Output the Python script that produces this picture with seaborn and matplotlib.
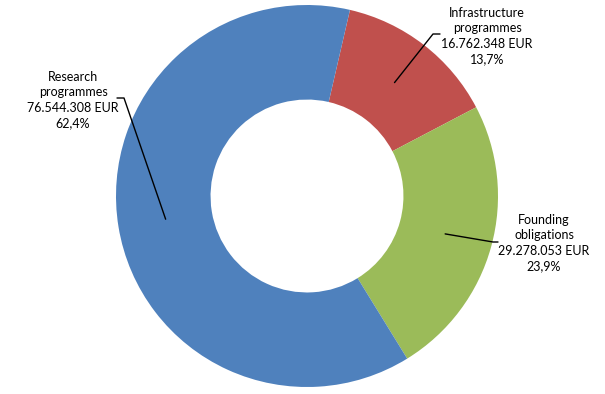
import numpy as np
import matplotlib
matplotlib.use("Agg")
import matplotlib.pyplot as plt
import seaborn as sns

# data (clockwise order, starting just right of 12 o'clock)
labels = ["Infrastructure\nprogrammes", "Founding\nobligations", "Research\nprogrammes"]
amounts = ["16.762.348 EUR", "29.278.053 EUR", "76.544.308 EUR"]
shares = [13.7, 23.9, 62.4]
colors = ["#C0504D", "#9BBB59", "#4F81BD"]

sns.set_style("white")
plt.rcParams["font.family"] = ["Lato", "DejaVu Sans"]

W, H = 605, 394
fig = plt.figure(figsize=(W / 100, H / 100), dpi=100)
ax = fig.add_axes([0, 0, 1, 1])

cx, cy = 307, H - 196
R = 191
START = 77

wedges, _ = ax.pie(
    shares, colors=colors, startangle=START, counterclock=False,
    center=(cx, cy), radius=R, frame=True,
    wedgeprops=dict(width=R * 0.495, linewidth=0),
)
ax.set_xlim(0, W)
ax.set_ylim(0, H)
ax.axis("off")

# label positions (pixel coords, y from top): text centre, elbow, stub end
text_pos = [(487, 36), (544, 243), (73, 100)]
elbows = [(433, 34), (493, 242), (124, 98)]
stubs = [(440, 34), (498, 242), (117, 98)]

for w, lab, amt, sh, tp, el, st in zip(wedges, labels, amounts, shares,
                                        text_pos, elbows, stubs):
    mid = np.deg2rad((w.theta1 + w.theta2) / 2)
    px = cx + 0.75 * R * np.cos(mid)
    py = cy + 0.75 * R * np.sin(mid)
    ax.plot([px, el[0], st[0]], [py, H - el[1], H - st[1]],
            color="black", linewidth=1)
    pct = str(sh).replace(".", ",")
    ax.text(tp[0], H - tp[1], f"{lab}\n{amt}\n{pct}%", ha="center", va="center",
            fontsize=9, linespacing=1.35, color="black")

plt.savefig("out.png", dpi=100)
